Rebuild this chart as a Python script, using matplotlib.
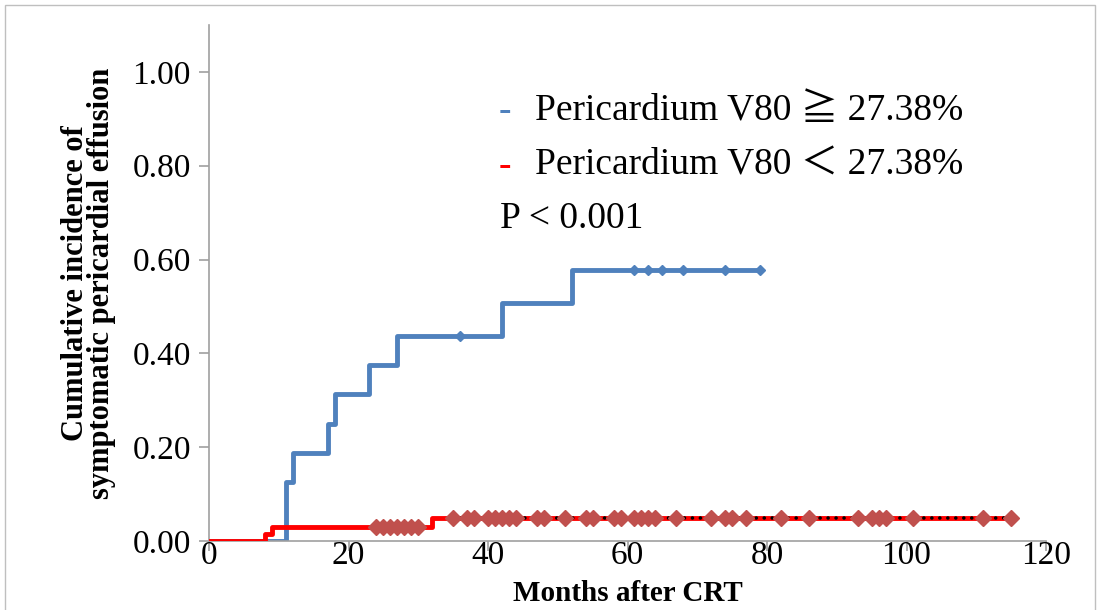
import matplotlib
matplotlib.use("Agg")
import matplotlib.pyplot as plt
from matplotlib.patches import Rectangle
import numpy as np

# Grupo V80 >= 27.38%
alto_tempos = [0, 11, 12, 17, 18, 23, 27, 42, 52, 79]
alto_valores = [0.0, 0.125, 0.1875, 0.25, 0.3125, 0.375, 0.4375, 0.5078, 0.5781, 0.5781]
alto_censura = [36, 61, 63, 65, 68, 74, 79]

# Grupo V80 < 27.38%
baixo_tempos = [0, 8, 9, 32, 115]
baixo_valores = [0.0, 0.015, 0.030, 0.048, 0.048]
baixo_censura = [24, 25, 26, 27, 28, 29, 30, 35, 37, 38, 40, 41, 42, 43, 44, 47,
                 48, 51, 54, 55, 58, 59, 61, 62, 63, 64, 67, 72, 74, 75, 77, 82,
                 86, 93, 95, 96, 97, 101, 111, 115]

x_ticks = [0, 20, 40, 60, 80, 100, 120]
y_ticks = [0.0, 0.2, 0.4, 0.6, 0.8, 1.0]

serif = ['Liberation Serif', 'DejaVu Serif', 'Noto Sans CJK JP']
plt.rcParams['font.family'] = serif

azul = '#4F81BD'
vermelho = '#FF0000'
marcador_vermelho = '#C0504D'


def nivel(tempos, valores, t):
    idx = np.searchsorted(tempos, t, side='right') - 1
    return np.array(valores)[idx]


fig = plt.figure(figsize=(11, 6.1), dpi=100)
ax = fig.add_axes([209 / 1100, 1 - 541 / 610, (1046 - 209) / 1100, (541 - 25) / 610])

ax.step(alto_tempos, alto_valores, where='post', color=azul, lw=3.5, zorder=2)
ax.plot(alto_censura, nivel(alto_tempos, alto_valores, alto_censura),
        ls='none', marker='D', ms=5, color=azul, zorder=3)

ax.step(baixo_tempos, baixo_valores, where='post', color=vermelho, lw=3.5, zorder=4)
cens_final = [t for t in baixo_censura if t > 32]
ax.plot([min(cens_final), max(cens_final)], nivel(baixo_tempos, baixo_valores, [min(cens_final), max(cens_final)]),
        color='black', lw=2.6, ls=(0, (0.01, 2.2)), dash_capstyle='round', zorder=5)
ax.plot(baixo_censura, nivel(baixo_tempos, baixo_valores, baixo_censura),
        ls='none', marker='D', ms=8, color=marcador_vermelho, zorder=6)

ax.set_xlim(0, 120)
ax.set_ylim(0, 1.1)
ax.set_xticks(x_ticks)
ax.set_yticks(y_ticks)
ax.set_yticklabels([f'{v:.2f}' for v in y_ticks])
ax.tick_params(axis='both', labelsize=24, colors='#A0A0A0', labelcolor='black', length=7, width=1.2)
ax.tick_params(axis='y', pad=6)
ax.tick_params(axis='x', pad=-7)
for lado in ['top', 'right']:
    ax.spines[lado].set_visible(False)
for lado in ['left', 'bottom']:
    ax.spines[lado].set_color('#A0A0A0')
    ax.spines[lado].set_linewidth(1.2)

ax.set_xlabel('Months after CRT', fontsize=21, fontweight='bold', labelpad=6)
ax.set_ylabel('Cumulative incidence of\nsymptomatic pericardial effusion', fontsize=22,
              fontweight='bold', labelpad=12, linespacing=0.85)

ax.text(41.5, 0.917, '-', color=azul, fontsize=27, va='center', fontweight='bold')
ax.text(46.7, 0.917, 'Pericardium V80 ≧ 27.38%', fontsize=27, va='center', family=serif)
ax.text(41.5, 0.800, '-', color=vermelho, fontsize=27, va='center', fontweight='bold')
ax.text(46.7, 0.800, 'Pericardium V80 ＜ 27.38%', fontsize=27, va='center', family=serif)
ax.text(41.7, 0.686, 'P < 0.001', fontsize=27, va='center')

fig.patches.append(Rectangle((5 / 1100, -0.01), 1090 / 1100, 1 - 5 / 610 + 0.01, transform=fig.transFigure,
                             fill=False, edgecolor='#BFBFBF', lw=1.0))

fig.savefig('out.png', dpi=100)
